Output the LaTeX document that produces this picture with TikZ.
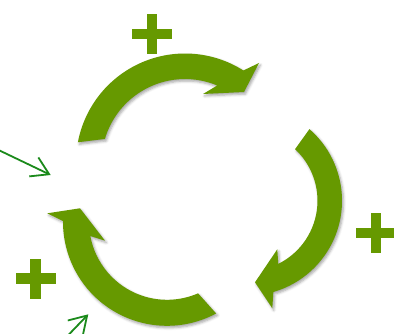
\documentclass[tikz,border=0pt]{standalone}
\usetikzlibrary{calc,arrows.meta,shadows.blur}
\definecolor{cyc}{HTML}{669900}
\definecolor{thin}{HTML}{1B8A1B}
\begin{document}
\begin{tikzpicture}[x=1pt,y=-1pt,
  cyclearrow/.style={fill=cyc, blur shadow={shadow xshift=1.5pt,shadow yshift=-2pt,shadow blur radius=2.5pt,shadow opacity=35}},
  pointer/.style={draw=thin, line width=1.8pt, -{Straight Barb[length=17pt,width=21pt]}},
  plussign/.pic={\fill[cyc] (-20,-5.2) rectangle (20,5.2); \fill[cyc] (-5.2,-20) rectangle (5.2,20);}
]
\useasboundingbox (0,0) rectangle (394,334);
\clip (0,0) rectangle (394,334);
\coordinate (c1) at (185,162.5);
\coordinate (c2) at (247,200.7);
\coordinate (c3) at (167,221.8);
% top arrow
\fill[cyclearrow] ($(c1)+(-169.3:109)$) arc[start angle=-169.3,end angle=-57.6,radius=109]
  -- (259,63) -- (244,92) -- (203,94) -- ($(c1)+(-67.3:83.5)$)
  arc[start angle=-67.3,end angle=-163.6,radius=83.5] -- cycle;
% right arrow
\fill[cyclearrow] ($(c2)+(-48.9:95)$) arc[start angle=-48.9,end angle=73.9,radius=95]
  -- (272.3,308.3) -- (255,282.3) -- (277.3,249.3) -- ($(c2)+(63.7:70.5)$)
  arc[start angle=63.7,end angle=-47,radius=70.5] -- cycle;
% bottom-left arrow
\fill[cyclearrow] ($(c3)+(61.8:104)$) arc[start angle=61.8,end angle=180.4,radius=104]
  -- (47.3,213.3) -- (80,208.3) -- (105,240.7) -- ($(c3)+(169.5:78)$)
  arc[start angle=169.5,end angle=66.5,radius=78] -- cycle;
% plus signs
\pic (plusA) at (151.7,34.2) {plussign};
\pic (plusB) at (375.8,233) {plussign};
\pic (plusC) at (35.5,278.5) {plussign};
% thin pointers
\coordinate (p1s) at (-4,148.8);
\coordinate (p1e) at (50.7,175);
\coordinate (p2s) at (65.5,338);
\coordinate (p2e) at (88.3,314.3);
\draw[pointer] (p1s) -- (p1e);
\draw[pointer] (p2s) -- (p2e);
\end{tikzpicture}
\end{document}
